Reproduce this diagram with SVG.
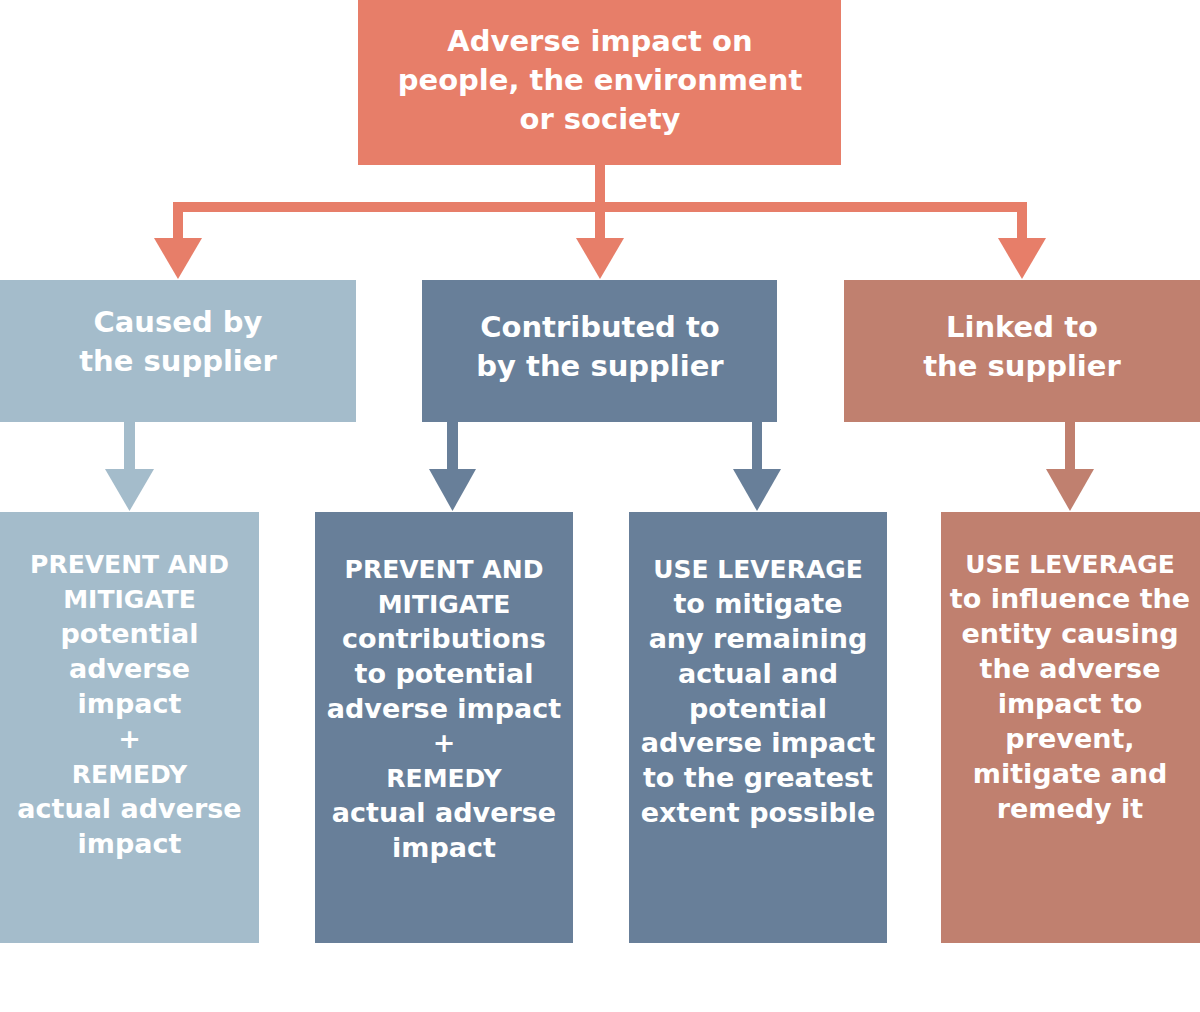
<svg xmlns="http://www.w3.org/2000/svg" width="1200" height="1012" viewBox="0 0 1200 1012">
<style>
  text { font-family: "DejaVu Sans", "Liberation Sans", sans-serif; font-weight: bold; fill: #ffffff; text-anchor: middle; }
  .t1 { font-size: 29px; }
  .t3 { font-size: 27px; }
  .cap { font-size: 25px; }
  .orange { fill: #E77E69; }
  .light { fill: #A4BCCB; }
  .dark { fill: #687F99; }
  .brown { fill: #C0806F; }
</style>
<rect width="1200" height="1012" fill="#ffffff"/>
<g id="connectors">
  <rect class="orange" x="595" y="165" width="10" height="80"/>
  <rect class="orange" x="173" y="202" width="854" height="10"/>
  <rect class="orange" x="173" y="202" width="10" height="40"/>
  <rect class="orange" x="1017" y="202" width="10" height="40"/>
  <polygon class="orange" points="154,238 202,238 178,279"/>
  <polygon class="orange" points="576,238 624,238 600,279"/>
  <polygon class="orange" points="998,238 1046,238 1022,279"/>
  <rect class="light" x="124" y="422" width="11" height="50"/>
  <polygon class="light" points="105,469 154,469 129.5,511"/>
  <rect class="dark" x="447" y="422" width="11" height="50"/>
  <polygon class="dark" points="429,469 476,469 452.5,511"/>
  <rect class="dark" x="752" y="422" width="10" height="50"/>
  <polygon class="dark" points="733,469 781,469 757,511"/>
  <rect class="brown" x="1065" y="422" width="10" height="50"/>
  <polygon class="brown" points="1046,469 1094,469 1070,511"/>
</g>
<g id="top">
  <rect class="orange" x="358" y="0" width="483" height="165"/>
  <text class="t1" x="600" y="51">Adverse impact on</text>
  <text class="t1" x="600" y="90">people, the environment</text>
  <text class="t1" x="600" y="129">or society</text>
</g>
<g id="caused">
  <rect class="light" x="0" y="280" width="356" height="142"/>
  <text class="t1" x="178" y="332">Caused by</text>
  <text class="t1" x="178" y="371">the supplier</text>
</g>
<g id="contributed">
  <rect class="dark" x="422" y="280" width="355" height="142"/>
  <text class="t1" x="600" y="337">Contributed to</text>
  <text class="t1" x="600" y="376">by the supplier</text>
</g>
<g id="linked">
  <rect class="brown" x="844" y="280" width="356" height="142"/>
  <text class="t1" x="1022" y="337">Linked to</text>
  <text class="t1" x="1022" y="376">the supplier</text>
</g>
<g id="action1">
  <rect class="light" x="0" y="512" width="259" height="431"/>
  <text class="cap" x="129.5" y="573">PREVENT AND</text>
  <text class="cap" x="129.5" y="608">MITIGATE</text>
  <text class="t3" x="129.5" y="643">potential</text>
  <text class="t3" x="129.5" y="678">adverse</text>
  <text class="t3" x="129.5" y="713">impact</text>
  <text class="t3" x="129.5" y="748">+</text>
  <text class="cap" x="129.5" y="783">REMEDY</text>
  <text class="t3" x="129.5" y="818">actual adverse</text>
  <text class="t3" x="129.5" y="853">impact</text>
</g>
<g id="action2">
  <rect class="dark" x="315" y="512" width="258" height="431"/>
  <text class="cap" x="444" y="578">PREVENT AND</text>
  <text class="cap" x="444" y="613">MITIGATE</text>
  <text class="t3" x="444" y="648">contributions</text>
  <text class="t3" x="444" y="683">to potential</text>
  <text class="t3" x="444" y="718">adverse impact</text>
  <text class="t3" x="444" y="752">+</text>
  <text class="cap" x="444" y="787">REMEDY</text>
  <text class="t3" x="444" y="822">actual adverse</text>
  <text class="t3" x="444" y="857">impact</text>
</g>
<g id="action3">
  <rect class="dark" x="629" y="512" width="258" height="431"/>
  <text class="cap" x="758" y="578">USE LEVERAGE</text>
  <text class="t3" x="758" y="613">to mitigate</text>
  <text class="t3" x="758" y="648">any remaining</text>
  <text class="t3" x="758" y="683">actual and</text>
  <text class="t3" x="758" y="718">potential</text>
  <text class="t3" x="758" y="752">adverse impact</text>
  <text class="t3" x="758" y="787">to the greatest</text>
  <text class="t3" x="758" y="822">extent possible</text>
</g>
<g id="action4">
  <rect class="brown" x="941" y="512" width="259" height="431"/>
  <text class="cap" x="1070" y="573">USE LEVERAGE</text>
  <text class="t3" x="1070" y="608">to influence the</text>
  <text class="t3" x="1070" y="643">entity causing</text>
  <text class="t3" x="1070" y="678">the adverse</text>
  <text class="t3" x="1070" y="713">impact to</text>
  <text class="t3" x="1070" y="748">prevent,</text>
  <text class="t3" x="1070" y="783">mitigate and</text>
  <text class="t3" x="1070" y="818">remedy it</text>
</g>
</svg>
